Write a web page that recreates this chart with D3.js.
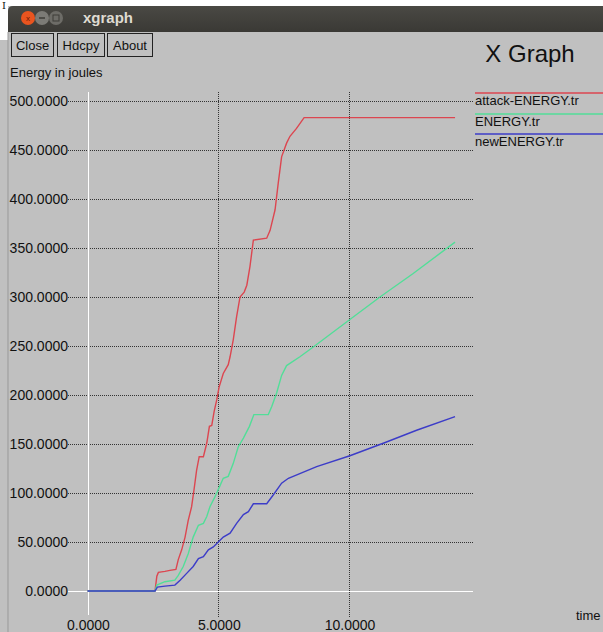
<!DOCTYPE html>
<html>
<head>
<meta charset="utf-8">
<script src="https://cdn.jsdelivr.net/npm/d3@7/dist/d3.min.js"></script>
<style>
  body { margin: 0; background: #fff; }
  svg { display: block; }
  text { font-family: "Liberation Sans", Arial, sans-serif; fill: #111; }
</style>
</head>
<body>
<svg width="603" height="632"></svg>
<script>
// data (time, energy)
var attackTime = [0, 2.58, 2.65, 2.71, 2.96, 3.15, 3.38, 3.47, 3.60, 3.73, 3.85, 3.98, 4.07, 4.17, 4.27, 4.43, 4.56, 4.66, 4.75, 4.84, 4.94, 5.03, 5.19, 5.38, 5.45, 5.57, 5.70, 5.83, 5.99, 6.09, 6.21, 6.34, 6.85, 6.98, 7.17, 7.29, 7.42, 7.61, 7.74, 7.99, 8.28, 14.05];
var attackEnergy = [0, 0, 15, 19, 20, 21, 22, 32, 42, 55, 72, 86, 103, 123, 137, 137, 151, 168, 169, 183, 195, 208, 222, 231, 239, 256, 280, 300, 305, 312, 331, 358, 360, 368, 389, 416, 443, 457, 464, 472, 483, 483];

var energyTime = [0, 2.58, 2.65, 2.96, 3.34, 3.47, 3.66, 3.85, 4.04, 4.24, 4.43, 4.56, 4.68, 4.87, 5.04, 5.19, 5.38, 5.57, 5.76, 5.96, 6.19, 6.36, 6.91, 7.04, 7.23, 7.42, 7.61, 8.12, 8.63, 10.03, 11.18, 12.45, 14.05];
var energyValue = [0, 0, 6, 9.5, 11, 16, 25, 38, 55, 67, 69, 76, 86, 96, 106, 115, 117, 130, 147, 156, 168, 180, 180, 188, 202, 220, 230, 239, 249, 277, 300, 324, 356];

var newTime = [0, 2.58, 2.67, 2.96, 3.34, 3.54, 3.79, 4.04, 4.24, 4.43, 4.62, 4.81, 5.00, 5.19, 5.45, 5.70, 5.96, 6.15, 6.34, 6.85, 7.10, 7.42, 7.68, 8.76, 10.03, 11.33, 12.58, 14.05];
var newEnergy = [0, 0, 4, 5, 6, 11, 18, 25, 33, 35, 42, 45, 50, 55, 59, 69, 78, 81, 89, 89, 98, 110, 115, 127, 138, 151, 164, 178];

var seriesNames = ["attack-ENERGY.tr", "ENERGY.tr", "newENERGY.tr"];
var seriesColors = ["#dc4650", "#52de98", "#3c3cc8"];
var xTicks = [0, 5, 10];
var yTicks = [0, 50, 100, 150, 200, 250, 300, 350, 400, 450, 500];
var buttons = ["Close", "Hdcpy", "About"];

var svg = d3.select("svg");

var x = d3.scaleLinear().domain([0, 10]).range([87.5, 349.1]);
var y = d3.scaleLinear().domain([0, 500]).range([591, 101]);
var fmt = d3.format(".4f");

// window chrome
svg.append("rect").attr("x", 0).attr("y", 0).attr("width", 603).attr("height", 632).attr("fill", "#fff");
svg.append("rect").attr("x", 8).attr("y", 6).attr("width", 595).attr("height", 626).attr("fill", "#c0c0c0");
svg.append("rect").attr("x", 0).attr("y", 40).attr("width", 8).attr("height", 592).attr("fill", "#c0c0c0");
svg.append("line").attr("x1", 8).attr("x2", 8).attr("y1", 32).attr("y2", 632).attr("stroke", "#999");

var grad = svg.append("defs").append("linearGradient").attr("id", "tb").attr("x1", 0).attr("x2", 0).attr("y1", 0).attr("y2", 1);
grad.append("stop").attr("offset", 0).attr("stop-color", "#4a4944");
grad.append("stop").attr("offset", 1).attr("stop-color", "#3a3935");
svg.append("path").attr("d", "M8,32 V11 Q8,6 13,6 H603 V32 Z").attr("fill", "url(#tb)");

svg.append("circle").attr("cx", 28).attr("cy", 18).attr("r", 7).attr("fill", "#e9541f");
svg.append("text").attr("x", 28).attr("y", 21).attr("text-anchor", "middle")
  .style("font-size", "8px").style("fill", "#6b1a05").text("x");
svg.append("circle").attr("cx", 42).attr("cy", 18).attr("r", 7).attr("fill", "#7c7b76");
svg.append("line").attr("x1", 39).attr("x2", 45).attr("y1", 18).attr("y2", 18).attr("stroke", "#3e3d39").attr("stroke-width", 1.5);
svg.append("circle").attr("cx", 56).attr("cy", 18).attr("r", 7).attr("fill", "#6d6c67");
svg.append("rect").attr("x", 53).attr("y", 15).attr("width", 6).attr("height", 6).attr("fill", "none").attr("stroke", "#3e3d39");
svg.append("text").attr("x", 83).attr("y", 23).style("font-size", "15px").style("font-weight", "bold")
  .style("fill", "#dfdbd2").text("xgraph");
svg.append("text").attr("x", 2).attr("y", 9).style("font-size", "10px").style("font-family", "DejaVu Serif").text("I");

// buttons
var bx = [11, 57, 107], bw = [42, 47, 45];
svg.selectAll(".btn").data(buttons).join("g").attr("class", "btn")
  .each(function(d, i) {
    var g = d3.select(this);
    g.append("rect").attr("x", bx[i] + 0.5).attr("y", 33.5).attr("width", bw[i]).attr("height", 23)
      .attr("fill", "#c0c0c0").attr("stroke", "#222");
    g.append("text").attr("x", bx[i] + bw[i] / 2 + 0.5).attr("y", 50).attr("text-anchor", "middle")
      .style("font-size", "13px").text(d);
  });

svg.append("text").attr("x", 10).attr("y", 77).style("font-size", "13px").text("Energy in joules");
svg.append("text").attr("x", 530).attr("y", 62).attr("text-anchor", "middle").style("font-size", "24px").text("X Graph");

// grid
var plotLeft = 68, plotRight = 473;
svg.selectAll(".hgrid").data(yTicks).join("line").attr("class", "hgrid")
  .attr("x1", plotLeft).attr("x2", plotRight)
  .attr("y1", d => y(d) + 0.5).attr("y2", d => y(d) + 0.5)
  .attr("stroke", d => d === 0 ? "#fff" : "#333")
  .attr("stroke-dasharray", d => d === 0 ? null : "1,1");

svg.selectAll(".vgrid").data(xTicks).join("line").attr("class", "vgrid")
  .attr("x1", d => Math.round(x(d)) + 0.5).attr("x2", d => Math.round(x(d)) + 0.5)
  .attr("y1", 92).attr("y2", d => d === 0 ? 615 : 618)
  .attr("stroke", d => d === 0 ? "#fff" : "#333")
  .attr("stroke-dasharray", d => d === 0 ? null : "1,1");

svg.selectAll(".ylab").data(yTicks).join("text").attr("class", "ylab")
  .attr("x", plotLeft).attr("y", d => y(d) + 5).attr("text-anchor", "end")
  .style("font-size", "14px").text(d => fmt(d));

svg.selectAll(".xlab").data(xTicks).join("text").attr("class", "xlab")
  .attr("x", d => x(d) + 1).attr("y", 630).attr("text-anchor", "middle")
  .style("font-size", "14px").text(d => fmt(d));

svg.append("text").attr("x", 576).attr("y", 620).style("font-size", "13px").text("time");

// series
var series = [
  attackTime.map((t, i) => [t, attackEnergy[i]]),
  energyTime.map((t, i) => [t, energyValue[i]]),
  newTime.map((t, i) => [t, newEnergy[i]])
];
var line = d3.line().x(d => x(d[0])).y(d => y(d[1]));

svg.selectAll(".series").data(series).join("path").attr("class", "series")
  .attr("d", line).attr("fill", "none")
  .attr("stroke", (d, i) => seriesColors[i]).attr("stroke-width", 1.4);

// legend
var legY = [93, 114, 134];
var leg = svg.selectAll(".leg").data(seriesNames).join("g").attr("class", "leg");
leg.append("line").attr("x1", 475).attr("x2", 603)
  .attr("y1", (d, i) => legY[i]).attr("y2", (d, i) => legY[i])
  .attr("stroke", (d, i) => seriesColors[i]).attr("stroke-width", 1.4);
leg.append("text").attr("x", 475).attr("y", (d, i) => legY[i] + 12)
  .style("font-size", "13px").text(d => d);
</script>
</body>
</html>
